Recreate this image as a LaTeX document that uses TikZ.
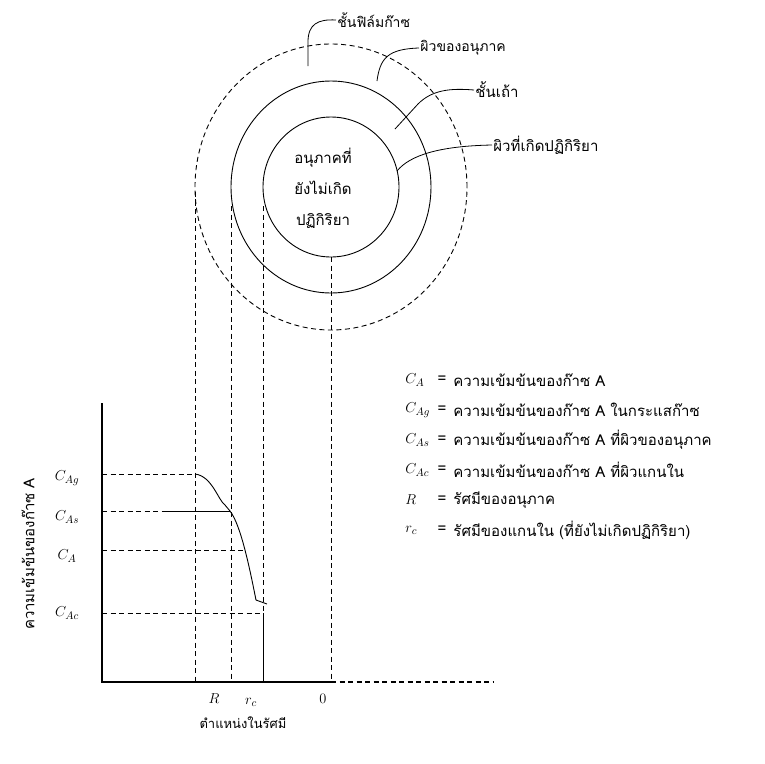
\documentclass[tikz,border=0pt]{standalone}
\usepackage{fontspec}
\newfontfamily\thaifont[Script=Thai]{Loma}
\usetikzlibrary{positioning}

\begin{document}
\begin{tikzpicture}[x=1pt, y=-1pt, line width=0.9pt,
  every node/.style={font=\thaifont\fontsize{15}{17}\selectfont, inner sep=1pt},
  guide/.style={dash pattern=on 5pt off 3.5pt},
  leader/.style={line width=0.8pt},
  axis/.style={line width=1.1pt}]
\useasboundingbox (0,0) rectangle (764,764);

% particle with film, ash layer and unreacted core
\coordinate (o) at (331,187);
\draw[guide] (o) ellipse [x radius=136pt, y radius=143pt];
\draw (o) ellipse [x radius=100pt, y radius=106pt];
\draw (o) ellipse [x radius=68pt, y radius=70pt];
\node[align=center, font=\thaifont\fontsize{15}{31}\selectfont] (core) at (323,188)
  {อนุภาคที่\\ยังไม่เกิด\\ปฏิกิริยา};

% labels round the particle
\node[anchor=west, font=\thaifont\fontsize{14}{16}\selectfont] (film) at (336,20) {ชั้นฟิล์มก๊าซ};
\node[anchor=west, font=\thaifont\fontsize{14}{16}\selectfont] (surf) at (419,48) {ผิวของอนุภาค};
\node[anchor=west] (ash) at (474,90) {ชั้นเถ้า};
\node[anchor=west] (react) at (492,145) {ผิวที่เกิดปฏิกิริยา};
\coordinate (filmpt) at (308,66);
\coordinate (surfpt) at (377,81);
\coordinate (ashpt) at (395,129);
\coordinate (reactpt) at (397,171);
\draw[leader] (filmpt) -- (308,42) .. controls (308,24) and (318,19) .. (film.west);
\draw[leader] (surfpt) .. controls (380,58) and (388,49) .. (surf.west);
\draw[leader] (ashpt) -- (418,104) .. controls (432,90) and (450,88) .. (ash.west);
\draw[leader] (reactpt) .. controls (410,155) and (440,146) .. (react.west);

% axes
\coordinate (org) at (102,682);
\draw[axis] (102,403) -- (org) -- (331,682);
\draw[axis, guide] (331,682) -- (493,682);

% guides from the circles down to the axis
\draw[guide] (195,192) -- (195,682);
\draw[guide] (231,206) -- (231,682);
\draw[guide] (263,206) -- (263,613);
\draw (263,613) -- (263,682);
\draw[guide] (331,257) -- (331,682);

% concentration levels and profile
\draw[guide] (102,474) -- (195,474);
\draw (195,474) .. controls (212,476) and (218,500) .. (225,505) -- (230,511);
\draw[guide] (102,511) -- (165,511);
\draw (165,511) -- (230,511);
\draw (230,511) .. controls (241,525) and (250,570) .. (256,600) -- (267,604);
\draw[guide] (102,550) -- (243,550);
\draw[guide] (102,613) -- (263,613);

% level labels
\node (cag) at (67,478) {$C_{Ag}$};
\node (cas) at (67,517) {$C_{As}$};
\node (ca) at (67,556) {$C_{A}$};
\node (cac) at (67,613) {$C_{Ac}$};
\node[rotate=90] (ytitle) at (28,554) {ความเข้มข้นของก๊าซ A};

% tick labels
\node (tR) at (214,699) {$R$};
\node (trc) at (251,702) {$r_c$};
\node (t0) at (323,699) {$0$};
\node[font=\thaifont\fontsize{13}{15}\selectfont] (xtitle) at (243,723) {ตำแหน่งในรัศมี};

% legend
\foreach \yy/\sym/\txt in {
  380/{$C_{A}$}/{ความเข้มข้นของก๊าซ A},
  410/{$C_{Ag}$}/{ความเข้มข้นของก๊าซ A ในกระแสก๊าซ},
  440/{$C_{As}$}/{ความเข้มข้นของก๊าซ A ที่ผิวของอนุภาค},
  470/{$C_{Ac}$}/{ความเข้มข้นของก๊าซ A ที่ผิวแกนใน},
  500/{$R$}/{รัศมีของอนุภาค},
  530/{$r_c$}/{รัศมีของแกนใน (ที่ยังไม่เกิดปฏิกิริยา)}}{
  \node[anchor=west] (sym\yy) at (404,\yy) {\sym};
  \node (eq\yy) at (442,\yy) {=};
  \node[anchor=west] (txt\yy) at (452,\yy) {\txt};
}
\end{tikzpicture}
\end{document}
